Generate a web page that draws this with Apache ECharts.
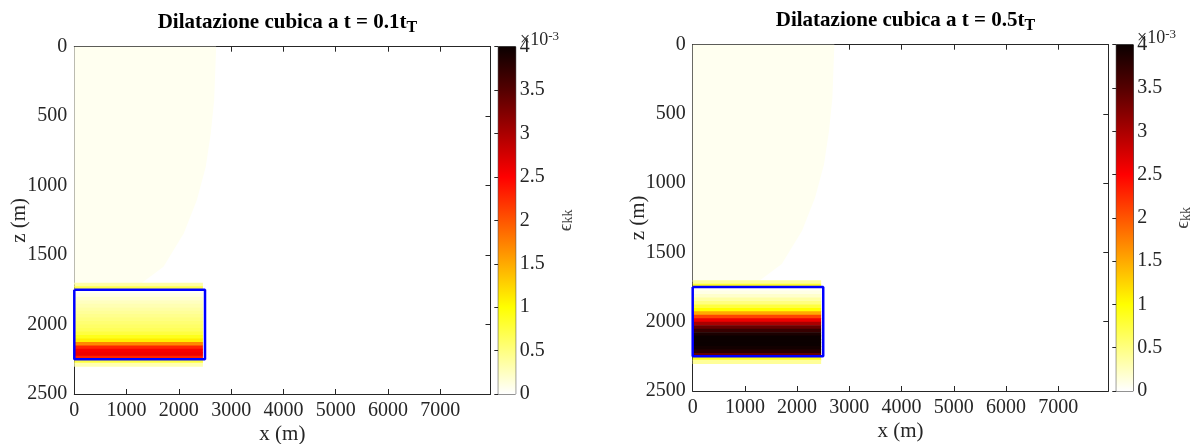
<!DOCTYPE html>
<html><head><meta charset="utf-8">
<script src="https://cdn.jsdelivr.net/npm/echarts@6/dist/echarts.min.js"></script>
<style>html,body{margin:0;padding:0;background:#fff}#c{width:1195px;height:444px}</style>
</head><body><div id="c"></div>
<script>
// ---- data ----
const panelTitles = ['Dilatazione cubica a t = 0.1t', 'Dilatazione cubica a t = 0.5t'];
const titleSub = 'T';
const xMin = 0, xMax = 7960, xStep = 1000;
const zMin = 0, zMax = 2500, zStep = 500;
const cMin = 0, cMax = 4, cStep = 0.5;
const xName = 'x (m)', zName = 'z (m)';
const cbSymbol = 'ϵ', cbSub = 'kk';
const cbExponent = '-3';
// reservoir outline (blue box)
const reservoirBox = [[0, 1750], [2500, 1750], [2500, 2250], [0, 2250], [0, 1750]];
// horizontal extent of the coloured field rows
const fieldX = [0, 2460];
// row edges in z (m)
const rowZ = [1700, 1725, 1750, 1775, 1800, 1825, 1850, 1875, 1900, 1925, 1950, 1975, 2000,
              2025, 2050, 2075, 2100, 2125, 2150, 2175, 2200, 2225, 2250, 2275, 2300];
// eps_kk (x1e-3) per row, t = 0.1 tT
const eps01 = [0.35, 0.7, 0.03, 0.1, 0.18, 0.25, 0.3, 0.35, 0.4, 0.45, 0.5, 0.55,
               0.6, 0.65, 0.75, 0.9, 1.1, 1.7, 2.3, 2.55, 2.6, 2.3, 0.75, 0.3];
// eps_kk (x1e-3) per row, t = 0.5 tT
const eps05 = [0.4, 0.85, 0.03, 0.1, 0.2, 0.35, 0.5, 0.75, 1.0, 1.5, 2.1, 2.6,
               3.0, 3.4, 3.7, 3.9, 4.0, 4.0, 4.0, 3.95, 3.8, 3.4, 0.9, 0.4];
// faint region above the reservoir: outer boundary
const paleZ = [0, 384, 623, 864, 1103, 1343, 1584, 1712];
const paleX = [2713, 2675, 2610, 2514, 2344, 2094, 1705, 1250];
const paleValue = 0.06;

// ---- style ----
const hotColors = ['#ffffff', '#ffff80', '#ffff00', '#ffaa00', '#ff5500', '#ff0000', '#aa0000', '#550000', '#0b0000'];
const FONT = 'Liberation Serif';
const AX = '#262626';
const TICKFS = 20;

const layout = [
  { main: { left: 74.3, top: 46.7, width: 416.2, height: 347.3 },
    cb: { left: 498.3, top: 46.7, width: 17.4, height: 347.3 },
    titleX: 282.4, titleY: 5, expX: 515, expY: 25 },
  { main: { left: 692.7, top: 44.7, width: 415.6, height: 346.3 },
    cb: { left: 1116.3, top: 44.7, width: 17, height: 346.3 },
    titleX: 900.5, titleY: 3, expX: 1132, expY: 23 }
];
const profiles = [eps01, eps05];

const grids = [], xAxes = [], yAxes = [], series = [], titles = [];
const mappedSeries = [];
const fmt = v => String(v);

function baseAxis(extra) {
  return Object.assign({
    type: 'value',
    axisLine: { show: true, onZero: false, lineStyle: { color: AX, width: 1 } },
    axisTick: { show: true, inside: true, length: 5, lineStyle: { color: AX } },
    splitLine: { show: false },
    axisLabel: { fontFamily: FONT, fontSize: TICKFS, color: AX, formatter: fmt }
  }, extra);
}

layout.forEach((L, p) => {
  const gMain = grids.length;
  grids.push(Object.assign({ containLabel: false, outerBoundsMode: 'none' }, L.main));
  const gCb = grids.length;
  grids.push(Object.assign({ show: true, outerBoundsMode: 'none', borderColor: AX, borderWidth: 1, backgroundColor: 'transparent' }, L.cb));

  const xb = xAxes.length;
  xAxes.push(baseAxis({ gridIndex: gMain, position: 'bottom', min: xMin, max: xMax, interval: xStep,
    axisLabel: { fontFamily: FONT, fontSize: TICKFS, color: AX, margin: 7, showMaxLabel: false, formatter: fmt },
    name: xName, nameLocation: 'middle', nameGap: 30, nameMoveOverlap: false,
    nameTextStyle: { fontFamily: FONT, fontSize: 21, color: AX } }));
  xAxes.push(baseAxis({ gridIndex: gMain, position: 'top', min: xMin, max: xMax, interval: xStep,
    axisLabel: { show: false } }));
  xAxes.push({ gridIndex: gCb, type: 'value', min: 0, max: 1, show: false });

  const yb = yAxes.length;
  yAxes.push(baseAxis({ gridIndex: gMain, position: 'left', inverse: true, min: zMin, max: zMax, interval: zStep,
    axisLabel: { fontFamily: FONT, fontSize: TICKFS, color: AX, margin: 7, formatter: fmt },
    name: zName, nameLocation: 'middle', nameGap: 44, nameRotate: 90, nameMoveOverlap: false,
    nameTextStyle: { fontFamily: FONT, fontSize: 21, color: AX } }));
  yAxes.push(baseAxis({ gridIndex: gMain, position: 'right', inverse: true, min: zMin, max: zMax, interval: zStep,
    axisLabel: { show: false } }));
  yAxes.push({ gridIndex: gCb, type: 'value', position: 'right', min: cMin, max: cMax, interval: cStep,
    axisLine: { show: false },
    axisTick: { show: true, inside: true, length: 4, lineStyle: { color: AX } },
    splitLine: { show: false },
    axisLabel: { fontFamily: FONT, fontSize: TICKFS, color: AX, margin: 4, formatter: fmt },
    name: '{e|' + cbSymbol + '}{k|' + cbSub + '}', nameLocation: 'middle', nameGap: 40, nameRotate: 90, nameMoveOverlap: false,
    nameTextStyle: { color: AX, rich: {
      e: { fontFamily: FONT, fontSize: 19, color: '#444', lineHeight: 20 },
      k: { fontFamily: FONT, fontSize: 14, color: '#444', verticalAlign: 'bottom', lineHeight: 8 } } } });

  // faint region
  mappedSeries.push(series.length);
  series.push({
    type: 'custom', xAxisIndex: xb, yAxisIndex: yb, z: 1, silent: true,
    data: [[0, paleX[0], 0, paleZ[paleZ.length - 1], paleValue]],
    encode: { x: [0, 1], y: [2, 3] },
    renderItem: function (params, api) {
      const pts = [api.coord([0, paleZ[0]])];
      for (let i = 0; i < paleZ.length; i++) pts.push(api.coord([paleX[i], paleZ[i]]));
      pts.push(api.coord([0, paleZ[paleZ.length - 1]]));
      return { type: 'polygon', shape: { points: pts }, style: { fill: api.visual('color') } };
    }
  });

  // field rows
  const prof = profiles[p];
  const cells = prof.map((v, i) => [fieldX[0], fieldX[1], rowZ[i], rowZ[i + 1], v]);
  mappedSeries.push(series.length);
  series.push({
    type: 'custom', xAxisIndex: xb, yAxisIndex: yb, z: 2, silent: true,
    data: cells, encode: { x: [0, 1], y: [2, 3] },
    renderItem: function (params, api) {
      const a = api.coord([api.value(0), api.value(2)]);
      const b = api.coord([api.value(1), api.value(3)]);
      return { type: 'rect',
        shape: { x: Math.min(a[0], b[0]), y: Math.min(a[1], b[1]), width: Math.abs(b[0] - a[0]), height: Math.abs(b[1] - a[1]) + 0.6 },
        style: { fill: api.visual('color'), stroke: null } };
    }
  });

  // reservoir box
  series.push({
    type: 'line', xAxisIndex: xb, yAxisIndex: yb, z: 5, silent: true,
    data: reservoirBox, symbol: 'none', animation: false,
    lineStyle: { color: '#0000ff', width: 2.5 }
  });

  // colorbar
  series.push({
    type: 'custom', xAxisIndex: xb + 2, yAxisIndex: yb + 2, z: 1, silent: true,
    data: [[0, 1, cMin, cMax]], encode: { x: [0, 1], y: [2, 3] },
    renderItem: function (params, api) {
      const a = api.coord([0, cMax]);
      const b = api.coord([1, cMin]);
      const stops = hotColors.map((c, i) => ({ offset: i / (hotColors.length - 1), color: c }));
      return { type: 'rect', shape: { x: a[0], y: a[1], width: b[0] - a[0], height: b[1] - a[1] },
        style: { fill: new echarts.graphic.LinearGradient(0, 1, 0, 0, stops) } };
    }
  });

  titles.push({
    text: '{m|' + panelTitles[p] + '}{s|' + titleSub + '}',
    left: L.titleX, top: L.titleY, textAlign: 'center',
    textStyle: { rich: {
      m: { fontFamily: FONT, fontSize: 21, fontWeight: 'bold', color: '#000', lineHeight: 26 },
      s: { fontFamily: FONT, fontSize: 16, fontWeight: 'bold', color: '#000', verticalAlign: 'bottom', lineHeight: 10 } } }
  });
  titles.push({
    text: '{a|×10}{p|' + cbExponent + '}',
    left: L.expX, top: L.expY,
    textStyle: { rich: {
      a: { fontFamily: FONT, fontSize: 18, fontWeight: 'normal', color: AX, lineHeight: 20 },
      p: { fontFamily: FONT, fontSize: 13, fontWeight: 'normal', color: AX, verticalAlign: 'top', lineHeight: 9 } } }
  });
});

const chart = echarts.init(document.getElementById('c'), null, { renderer: 'canvas' });
chart.setOption({
  animation: false,
  backgroundColor: '#fff',
  title: titles,
  grid: grids,
  xAxis: xAxes,
  yAxis: yAxes,
  visualMap: [{ type: 'continuous', show: false, min: cMin, max: cMax, dimension: 4,
    seriesIndex: mappedSeries, inRange: { color: hotColors } }],
  series: series
});
</script>
</body></html>
